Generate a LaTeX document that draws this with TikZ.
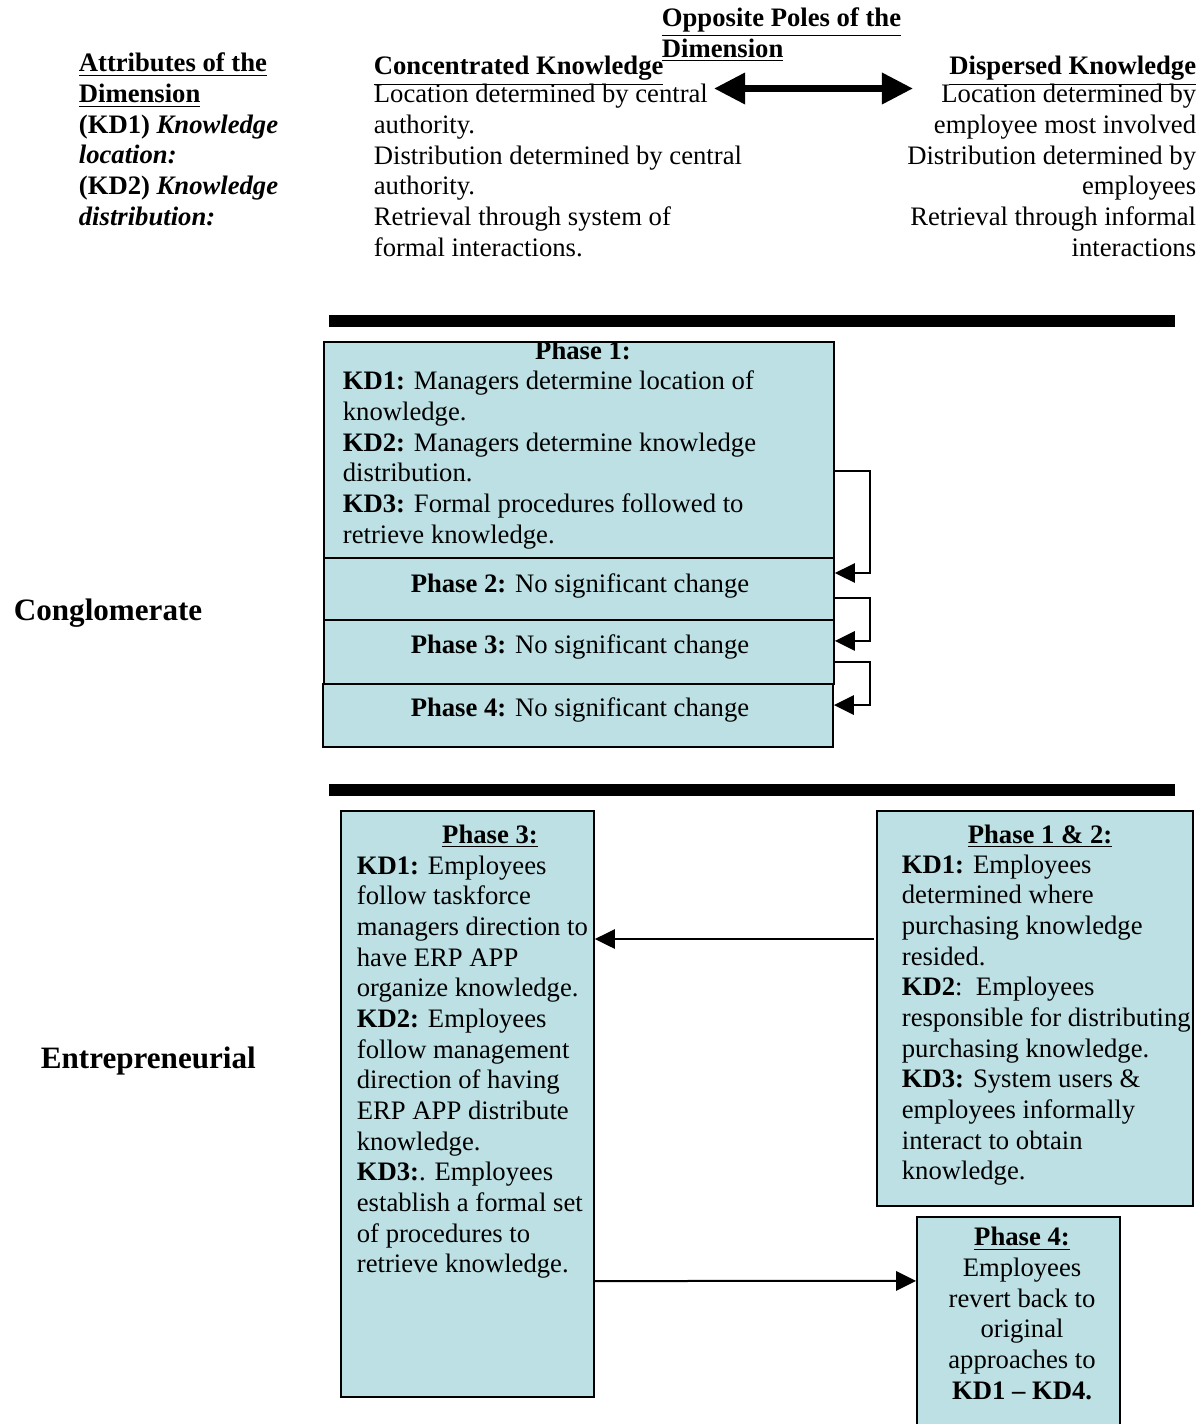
\documentclass[tikz,border=0pt]{standalone}
\usepackage{fontspec}
\setmainfont{Liberation Serif}
\usepackage{tikz}
\usetikzlibrary{arrows.meta}
\usetikzlibrary{positioning}
\definecolor{boxblue}{RGB}{188,224,227}
\tikzstyle{phasebox}=[rectangle, draw, fill=boxblue, inner sep=0pt, minimum width=229.5pt]
\tikzstyle{txt}=[inner sep=0pt, anchor=base west, align=left, font=\fontsize{12}{13.8}\selectfont]
\tikzstyle{rtxt}=[txt, anchor=base east, align=right]
\tikzstyle{ctxt}=[txt, anchor=base, align=center]
\tikzstyle{bigtxt}=[inner sep=0pt, anchor=base west, font=\fontsize{14}{16}\selectfont\bfseries]
\tikzstyle{flowarrow}=[-{Triangle[length=9pt,width=8.7pt]}, line width=0.9pt]
\tikzstyle{polearrow}=[{Triangle[length=14pt,width=13.5pt]}-{Triangle[length=14pt,width=13.5pt]}, line width=3.1pt]
\tikzstyle{bar}=[line width=5.2pt]
\tikzset{every picture/.style={
    line width=0.8pt
  }
}

\begin{document}
\begin{tikzpicture}[x=0.45pt, y=-0.45pt]
        \useasboundingbox (0,0) rectangle (1204,1424);
        \node[txt] at (78,225.3) (attr) {\underline{\textbf{Attributes of the}}\\\underline{\textbf{Dimension}}\\\textbf{(KD1) \textit{Knowledge}}\\\textbf{\textit{location:}}\\\textbf{(KD2) \textit{Knowledge}}\\\textbf{\textit{distribution:}}};
        \node[txt] at (661,57.4) (poles) {\underline{\textbf{Opposite Poles of the}}\\\underline{\textbf{Dimension}}};
        \node[txt] at (373,75) (conc) {\underline{\textbf{Concentrated Knowledge}}};
        \node[txt] at (373,256.3) (concdesc) {Location determined by central\\authority.\\Distribution determined by central\\authority.\\Retrieval through system of\\formal interactions.};
        \node[rtxt] at (1197,75) (disp) {\underline{\textbf{Dispersed Knowledge}}};
        \node[rtxt] at (1197,256.3) (dispdesc) {Location determined by\\employee most involved\\Distribution determined by\\employees\\Retrieval through informal\\interactions};
        \coordinate (poleleft) at (714,88.5);
        \coordinate (poleright) at (913,88.5);
        \draw[polearrow] (poleleft) -- (poleright);

        \draw[bar] (329,321) -- (1175,321);
        \draw[bar] (329,790) -- (1175,790);

        \node[bigtxt] at (13,620) (conglo) {Conglomerate};
        \node[phasebox, minimum height=97.2pt] at (579,450) (p1) {};
        \node[phasebox, minimum height=27.9pt] at (579,589) (p2) {};
        \node[phasebox, minimum height=28.8pt] at (579,652) (p3) {};
        \node[phasebox, minimum height=28.35pt] at (578,715.5) (p4) {};
        \begin{scope}
          \clip (p1.north west) rectangle (p1.south east);
          \node[ctxt] at (583,359) (ponetitle) {\textbf{Phase 1:}};
        \end{scope}
        \node[txt] at (342,543.3) (ponetext) {\textbf{KD1:} Managers determine location of\\knowledge.\\\textbf{KD2:} Managers determine knowledge\\distribution.\\\textbf{KD3:} Formal procedures followed to\\retrieve knowledge.};
        \node[ctxt] at (580,592) (ptwotext) {\textbf{Phase 2:} No significant change};
        \node[ctxt] at (580,653) (pthreetext) {\textbf{Phase 3:} No significant change};
        \node[ctxt] at (580,716) (pfourtext) {\textbf{Phase 4:} No significant change};
        \draw[flowarrow] ([yshift=-9.3pt]p1.east) -- ++(35,0) |- ([yshift=7.2pt]p2.east);
        \draw[flowarrow] ([yshift=-4pt]p2.east) -- ++(35,0) |- ([yshift=5pt]p3.east);
        \draw[flowarrow] ([yshift=-4.5pt]p3.east) -- ++(35,0) |- ([yshift=4.7pt]p4.east);

        \node[bigtxt] at (40,1068) (entre) {Entrepreneurial};
        \node[phasebox, minimum width=113.85pt, minimum height=263.7pt] at (467.5,1104) (e3) {};
        \node[phasebox, minimum width=142.2pt, minimum height=177.75pt] at (1035,1008.5) (e12) {};
        \node[phasebox, minimum width=91.35pt, minimum height=100.35pt] at (1018.5,1328.5) (e4) {};
        \node[ctxt] at (490,843) (ethreetitle) {\underline{\textbf{Phase 3:}}};
        \node[txt] at (356,1272.7) (ethreetext) {\textbf{KD1:} Employees\\follow taskforce\\managers direction to\\have ERP APP\\organize knowledge.\\\textbf{KD2:} Employees\\follow management\\direction of having\\ERP APP distribute\\knowledge.\\\textbf{KD3:}. Employees\\establish a formal set\\of procedures to\\retrieve knowledge.};
        \node[ctxt] at (1040,843) (eonetitle) {\underline{\textbf{Phase 1 \& 2:}}};
        \node[txt] at (901,1179.7) (eonetext) {\textbf{KD1:} Employees\\determined where\\purchasing knowledge\\resided.\\\textbf{KD2}:\ \ Employees\\responsible for distributing\\purchasing knowledge.\\\textbf{KD3:} System users \&\\employees informally\\interact to obtain\\knowledge.};
        \node[ctxt] at (1022,1399) (efourtext) {\underline{\textbf{Phase 4:}}\\Employees\\revert back to\\original\\approaches to\\\textbf{KD1 -- KD4.}};
        \coordinate (fromonetwo) at (874,939);
        \draw[flowarrow] (fromonetwo) -- (fromonetwo -| e3.east);
        \draw[flowarrow] ([yshift=-79.65pt]e3.east) -- ([yshift=21.4pt]e4.west);
      \end{tikzpicture}
\end{document}
